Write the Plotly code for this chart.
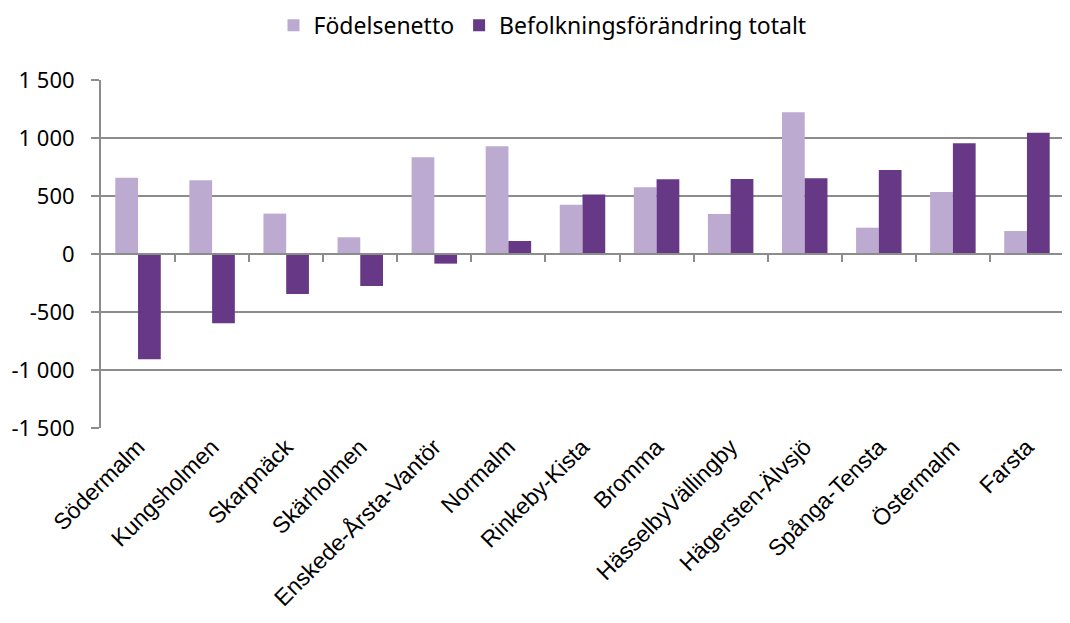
import plotly.graph_objects as go

districts = ["Södermalm", "Kungsholmen", "Skarpnäck", "Skärholmen", "Enskede-Årsta-Vantör",
             "Normalm", "Rinkeby-Kista", "Bromma", "HässelbyVällingby", "Hägersten-Älvsjö",
             "Spånga-Tensta", "Östermalm", "Farsta"]
fodelsenetto = [658, 635, 348, 144, 833, 928, 425, 575, 345, 1221, 227, 534, 198]
befolkning_totalt = [-908, -598, -345, -276, -83, 112, 514, 644, 646, 652, 724, 954, 1046]
y_ticks = [-1500, -1000, -500, 0, 500, 1000, 1500]
y_tick_labels = ["-1 500", "-1 000", "-500", "0", "500", "1 000", "1 500"]

LIGHT = "#BCAAD0"
DARK = "#673886"
GRID = "#8C8C8C"

fig = go.Figure()
fig.add_trace(go.Bar(name="Födelsenetto", x=list(range(len(districts))), y=fodelsenetto,
                     marker=dict(color=LIGHT, line=dict(width=0))))
fig.add_trace(go.Bar(name="Befolkningsförändring totalt", x=list(range(len(districts))),
                     y=befolkning_totalt, marker=dict(color=DARK, line=dict(width=0))))
# invisible helper on bottom label axis
fig.add_trace(go.Scatter(x=[0], y=[0], xaxis="x2", mode="markers",
                         marker=dict(opacity=0), showlegend=False, hoverinfo="skip"))

fig.update_layout(
    width=1062, height=615,
    margin=dict(l=93, r=6, t=72, b=195, autoexpand=False),
    paper_bgcolor="white", plot_bgcolor="white",
    barmode="group", bargap=0.386, bargroupgap=0,
    font=dict(family="Noto Sans", color="black"),
    legend=dict(orientation="h", x=0.250, xanchor="left", xref="container",
                y=0.972, yanchor="middle", yref="container",
                font=dict(size=23, family="Noto Sans"),
                itemwidth=30, tracegroupgap=0, traceorder="normal"),
    xaxis=dict(type="linear", range=[-0.5, len(districts) - 0.5],
               anchor="free", position=0.5, automargin=False,
               showline=True, linecolor=GRID, linewidth=2,
               ticks="outside", ticklen=7, tickcolor=GRID, tickwidth=1.5,
               tickvals=[i + 0.5 for i in range(len(districts) - 1)],
               showticklabels=False, showgrid=False, zeroline=False),
    xaxis2=dict(type="linear", range=[-0.5, len(districts) - 0.5], overlaying="x",
                anchor="y", side="bottom", automargin=False,
                tickvals=list(range(len(districts))), ticktext=districts,
                tickangle=-45, ticks="", showline=False, showgrid=False, zeroline=False,
                tickfont=dict(family="Liberation Sans", size=23, color="black")),
    yaxis=dict(range=[-1500, 1500], tickvals=y_ticks, ticktext=y_tick_labels,
               automargin=False,
               showgrid=True, gridcolor=GRID, gridwidth=1.5,
               showline=True, linecolor=GRID, linewidth=2,
               ticks="outside", ticklen=8, tickcolor=GRID, tickwidth=1.5,
               zeroline=False, ticklabelstandoff=12,
               tickfont=dict(family="Noto Sans", size=22, color="black")),
)

fig.write_html("out.html")
